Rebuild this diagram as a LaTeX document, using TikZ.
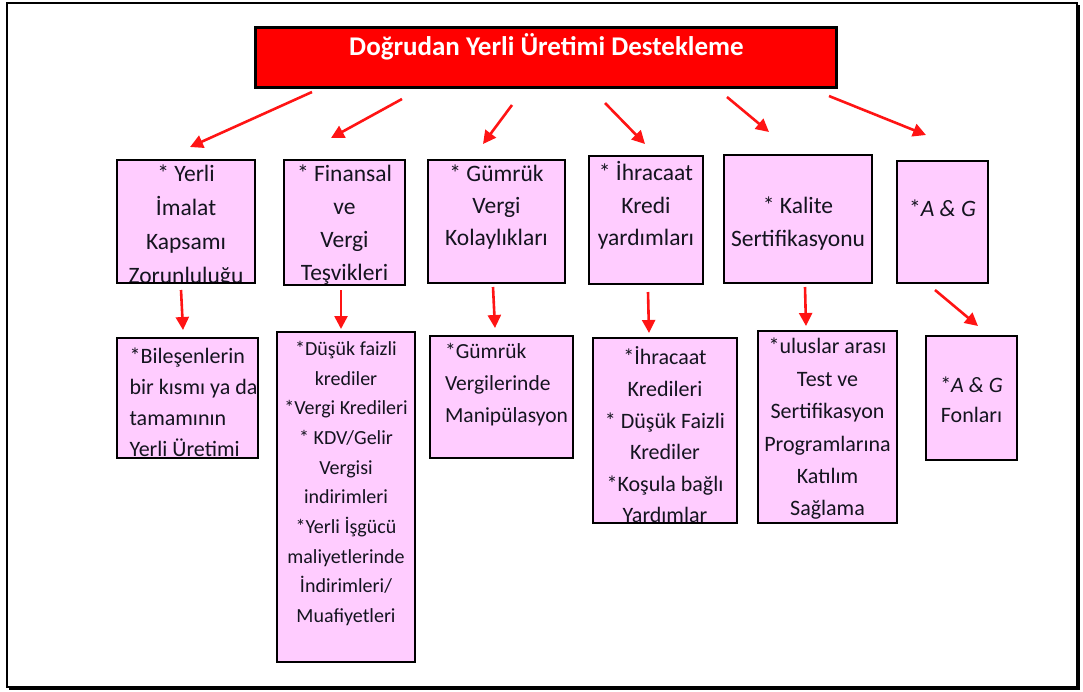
\documentclass[tikz,border=0pt]{standalone}
\usepackage{fontspec}
\setmainfont{Carlito}
\usetikzlibrary{arrows.meta}

\definecolor{cardpink}{HTML}{FFCCFF}
\definecolor{titlered}{HTML}{FF0000}
\definecolor{arrowred}{HTML}{FF1414}
\definecolor{inktext}{HTML}{14141F}

\tikzset{
  outerframe/.style={draw=black, line width=1.5pt, inner sep=0pt, outer sep=0pt},
  headbox/.style={draw=black, line width=3pt, fill=titlered, inner sep=0pt, outer sep=0pt},
  card/.style={draw=black, line width=2.6pt, fill=cardpink, inner sep=0pt, outer sep=0pt},
  cardtext/.style={text=inktext, align=center, inner sep=0pt},
  lefttext/.style={text=inktext, align=left, inner sep=0pt, anchor=west},
  upperfont/.style={font=\fontsize{23.5}{#1}\selectfont},
  lowerfont/.style={font=\fontsize{22}{#1}\selectfont},
  redarrow/.style={draw=arrowred, line width=2.6pt, -{Triangle[length=13pt,width=13pt]}},
}

\begin{document}
\begin{tikzpicture}[x=1pt, y=-1pt]
\useasboundingbox (0,0) rectangle (1083,691);

% outer frame with heavier bottom and right edges
\node[outerframe, minimum width=1070pt, minimum height=684pt] (frame) at (542,345) {};
\draw[line width=3.5pt] ([shift={(2,1)}]frame.south west) -- ([shift={(1,1)}]frame.south east) -- ([shift={(1,2)}]frame.north east);

% title bar
\node[headbox, minimum width=581pt, minimum height=60pt] (title) at (545.5,57) {};
\node[text=white, font=\bfseries\fontsize{27}{30}\selectfont, inner sep=0pt] (titletext)
  at ([shift={(1,20)}]title.north) {Doğrudan Yerli Üretimi Destekleme};

% upper row of boxes
\node[card, minimum width=138pt, minimum height=123pt, path picture={
  \node[cardtext, upperfont=34] (t1text) at ([shift={(0,66)}]path picture bounding box.north)
    {* Yerli\\İmalat\\Kapsamı\\Zorunluluğu};}] (t1) at (186,221.5) {};
\node[card, minimum width=121pt, minimum height=125pt, path picture={
  \node[cardtext, upperfont=33] (t2text) at ([shift={(0,64.5)}]path picture bounding box.north)
    {* Finansal\\ve\\Vergi\\Teşvikleri};}] (t2) at (344.5,222.5) {};
\node[card, minimum width=137pt, minimum height=123pt, path picture={
  \node[cardtext, upperfont=32] (t3text) at ([shift={(0,47)}]path picture bounding box.north)
    {* Gümrük\\Vergi\\Kolaylıkları};}] (t3) at (496.5,221.5) {};
\node[card, minimum width=114pt, minimum height=128pt, path picture={
  \node[cardtext, upperfont=32.5] (t4text) at ([shift={(0,49.5)}]path picture bounding box.north)
    {* İhracaat\\Kredi\\yardımları};}] (t4) at (646,220) {};
\node[card, minimum width=148pt, minimum height=128pt, path picture={
  \node[cardtext, upperfont=33] (t5text) at ([shift={(0,68.5)}]path picture bounding box.north)
    {* Kalite\\Sertifikasyonu};}] (t5) at (798,219) {};
\node[card, minimum width=91pt, minimum height=122pt, path picture={
  \node[cardtext, upperfont=33] (t6text) at ([shift={(0,47)}]path picture bounding box.north)
    {*\textit{A \& G}};}] (t6) at (942.5,222) {};

% lower row of boxes
\node[card, minimum width=141pt, minimum height=120pt, path picture={
  \node[lefttext, lowerfont=31] (b1text) at ([shift={(6,64.5)}]path picture bounding box.north west)
    {*Bileşenlerin\\bir kısmı ya da\\tamamının\\Yerli Üretimi};}] (b1) at (187.5,398) {};
\node[card, minimum width=138pt, minimum height=330pt, path picture={
  \node[cardtext, font=\fontsize{20}{29.7}\selectfont] (b2text) at ([shift={(0,151.5)}]path picture bounding box.north)
    {*Düşük faizli\\krediler\\*Vergi Kredileri\\* KDV/Gelir\\Vergisi\\indirimleri\\*Yerli İşgücü\\maliyetlerinde\\İndirimleri/\\Muafiyetleri};}] (b2) at (346,497) {};
\node[card, minimum width=143pt, minimum height=122pt, path picture={
  \node[lefttext, font=\fontsize{21.5}{32}\selectfont] (b3text) at ([shift={(5,49)}]path picture bounding box.north west)
    {*Gümrük\\Vergilerinde\\Manipülasyon};}] (b3) at (501.5,397) {};
\node[card, minimum width=144pt, minimum height=185pt, path picture={
  \node[cardtext, lowerfont=31.6] (b4text) at ([shift={(0,97)}]path picture bounding box.north)
    {*İhracaat\\Kredileri\\* Düşük Faizli\\Krediler\\*Koşula bağlı\\Yardımlar};}] (b4) at (665,430.5) {};
\node[card, minimum width=139pt, minimum height=192pt, path picture={
  \node[cardtext, lowerfont=32.4] (b5text) at ([shift={(0,98)}]path picture bounding box.north)
    {*uluslar arası\\Test ve\\Sertifikasyon\\Programlarına\\Katılım\\Sağlama};}] (b5) at (827.5,427) {};
\node[card, minimum width=91pt, minimum height=124pt, path picture={
  \node[cardtext, lowerfont=30] (b6text) at ([shift={(0,64)}]path picture bounding box.north)
    {*\textit{A \& G}\\Fonları};}] (b6) at (971.5,398) {};

% arrows from the title bar to the upper row
\draw[redarrow] ([shift={(57,5)}]title.south west)  -- ([shift={(73,-13)}]t1.north west);
\draw[redarrow] ([shift={(147,12)}]title.south west) -- ([shift={(47,-22)}]t2.north west);
\draw[redarrow] ([shift={(257,18)}]title.south west) -- ([shift={(55,-16)}]t3.north west);
\draw[redarrow] ([shift={(350,16)}]title.south west) -- ([shift={(56,-12)}]t4.north west);
\draw[redarrow] ([shift={(472,10)}]title.south west) -- ([shift={(45,-23)}]t5.north west);
\draw[redarrow] ([shift={(574,9)}]title.south west)  -- ([shift={(29,-26)}]t6.north west);

% arrows from the upper row to the lower row
\draw[redarrow] ([shift={(64,7)}]t1.south west) -- ([shift={(66,-8)}]b1.north west);
\draw[redarrow] ([shift={(57,5)}]t2.south west) -- ([shift={(64,-3)}]b2.north west);
\draw[redarrow] ([shift={(65,4)}]t3.south west) -- ([shift={(65,-8)}]b3.north west);
\draw[redarrow] ([shift={(59,8)}]t4.south west) -- ([shift={(56,-5)}]b4.north west);
\draw[redarrow] ([shift={(81,4)}]t5.south west) -- ([shift={(48,-5)}]b5.north west);
\draw[redarrow] ([shift={(38,7)}]t6.south west) -- ([shift={(52,-10)}]b6.north west);
\end{tikzpicture}
\end{document}
